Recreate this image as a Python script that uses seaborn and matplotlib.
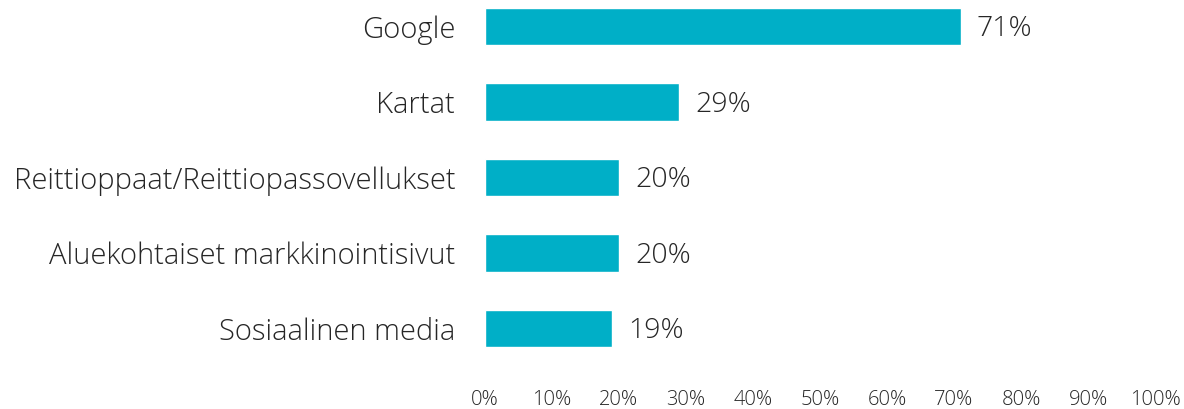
import matplotlib
matplotlib.use("Agg")
import matplotlib.pyplot as plt
import seaborn as sns
import pandas as pd

categories = [
    "Google",
    "Kartat",
    "Reittioppaat/Reittiopassovellukset",
    "Aluekohtaiset markkinointisivut",
    "Sosiaalinen media",
]
values = [0.71, 0.29, 0.20, 0.20, 0.19]
tick_values = [0, 0.1, 0.2, 0.3, 0.4, 0.5, 0.6, 0.7, 0.8, 0.9, 1.0]

df = pd.DataFrame({"source": categories, "share": values})

sns.set_style("white")
plt.rcParams["font.family"] = ["Open Sans", "DejaVu Sans"]
plt.rcParams["font.weight"] = "light"
text_color = "#262626"

W, H = 1184, 409
fig = plt.figure(figsize=(W / 100, H / 100), dpi=100)
ax = fig.add_axes([485 / W, 1 - 382 / H, (1155 - 485) / W, 382 / H])

sns.barplot(data=df, x="share", y="source", color="#00AFC7", saturation=1,
            width=0.5, ax=ax)

for i, v in enumerate(values):
    ax.annotate(f"{v * 100:.0f}%", xy=(v, i), xytext=(11.5, -2),
                textcoords="offset points", va="center", ha="left",
                fontsize=20.5, color=text_color)

ax.set_xlim(0, 1)
ax.set_ylim(4.71, -0.351)
ax.set_xticks(tick_values)
ax.set_xticklabels([f"{t * 100:.0f}%" for t in tick_values], fontsize=14.5,
                   color=text_color)
ax.tick_params(axis="y", labelsize=21, labelcolor=text_color, pad=21.5, length=0)
ax.tick_params(axis="x", length=0, pad=6)
ax.set_xlabel("")
ax.set_ylabel("")
sns.despine(ax=ax, left=True, bottom=True)

fig.savefig("out.png", dpi=100)
